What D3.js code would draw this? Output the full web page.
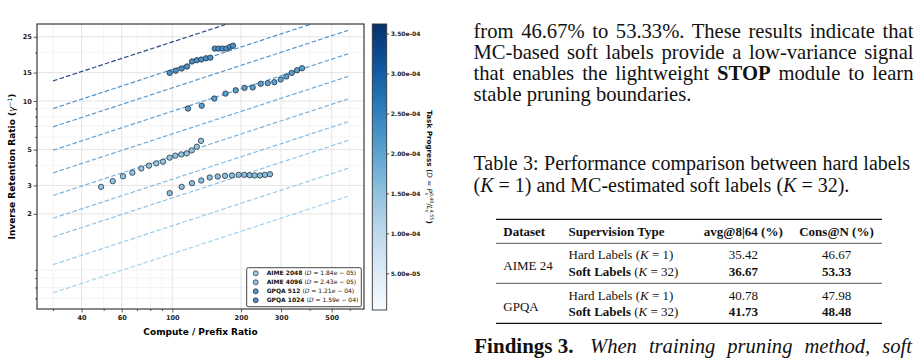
<!DOCTYPE html>
<html>
<head>
<meta charset="utf-8">
<script src="https://cdn.jsdelivr.net/npm/d3@7"></script>
<style>
  body { margin: 0; background: #fff; }
  svg { display: block; }
  .ax text { font-family: "DejaVu Sans"; font-weight: bold; fill: #222; }
  .ax line { stroke: #333; stroke-width: 0.8; }
  .paper { font-family: "Liberation Serif"; fill: #111; }
</style>
</head>
<body>
<svg id="fig" width="917" height="363"></svg>
<script>
// ---- chart data ----
const seriesNames = ["AIME 2048", "AIME 4096", "GPQA 512", "GPQA 1024"];
const seriesD = [1.84e-5, 2.43e-5, 1.21e-4, 1.59e-4];

const aime2048X = [48.7, 54.8, 60.8, 66.8, 73.1, 79.0, 85.1, 91.0, 97.4, 103.1, 109.5, 115.7, 121.6, 128.0, 133.6];
const aime2048Y = [2.94, 3.19, 3.42, 3.60, 3.82, 3.98, 4.11, 4.21, 4.46, 4.59, 4.67, 4.74, 4.94, 5.21, 5.67];
const aime4096X = [97.4, 109.9, 122.0, 134.0, 145.9, 158.2, 170.3, 182.7, 195.5, 206.9, 218.5, 229.8, 242.4, 255.0, 268.2];
const aime4096Y = [2.69, 2.94, 3.10, 3.22, 3.36, 3.41, 3.44, 3.46, 3.49, 3.49, 3.47, 3.46, 3.46, 3.49, 3.52];
const gpqa512X = [117.2, 134.6, 152.8, 171.2, 189.7, 207.3, 225.2, 244.2, 262.1, 280.2, 298.8, 316.2, 334.0, 352.4, 370.6];
const gpqa512Y = [8.99, 9.36, 10.36, 11.12, 11.65, 12.06, 12.14, 12.78, 12.91, 13.09, 13.60, 14.19, 14.94, 15.52, 15.96];
const gpqa1024X = [97.4, 103.5, 109.9, 116.0, 122.0, 128.0, 134.0, 140.6, 146.8, 153.5, 159.4, 165.7, 172.5, 179.1, 184.6];
const gpqa1024Y = [14.94, 15.41, 15.89, 16.37, 17.58, 17.90, 18.08, 18.39, 18.57, 21.13, 21.13, 21.13, 21.13, 21.65, 22.02];

// dashed iso-progress guides: value at x = guideX[0] and at x = guideX[1]
const guideX = [30, 590];
const guideStartY = [13.33, 8.99, 6.92, 4.96, 3.59, 2.60, 1.88, 1.44, 0.969, 0.649];
const guideEndY = [52.7, 35.6, 27.4, 19.6, 14.2, 10.3, 7.44, 5.70, 3.83, 2.57];

const xMajor = [40, 60, 100, 200, 300, 500];
const xMinor = [30, 50, 70, 80, 90, 400, 600];
const yMajor = [2, 3, 5, 10, 15, 25];
const yMinor = [0.6, 0.7, 0.8, 0.9, 4, 6, 7, 8, 9, 20];
const cbarTicks = [5e-5, 1e-4, 1.5e-4, 2e-4, 2.5e-4, 3e-4, 3.5e-4];
const cbarRange = [4.1e-6, 3.62e-4];

// ---- right-hand page text ----
const bodyLines = [
  [{t: "from 46.67% to 53.33%. These results indicate that"}],
  [{t: "MC-based soft labels provide a low-variance signal"}],
  [{t: "that enables the lightweight "}, {t: "STOP", b: 1}, {t: " module to learn"}],
  [{t: "stable pruning boundaries."}]
];
const captionLines = [
  [{t: "Table 3: Performance comparison between hard labels"}],
  [{t: "("}, {t: "K", i: 1}, {t: " = 1) and MC-estimated soft labels ("}, {t: "K", i: 1}, {t: " = 32)."}]
];
const tableHeader = ["Dataset", "Supervision Type", "avg@8|64 (%)", "Cons@N (%)"];
const tableDatasets = ["AIME 24", "GPQA"];
const avgHard = [35.42, 40.78], avgSoft = [36.67, 41.73];
const consHard = [46.67, 47.98], consSoft = [53.33, 48.48];

const svg = d3.select("#fig");
svg.append("rect").attr("width", 917).attr("height", 363).attr("fill", "#fff");

const plot = {l: 37, t: 24, r: 364, b: 309};
const x = d3.scaleLog().domain([25.5, 693]).range([plot.l, plot.r]);
const y = d3.scaleLog().domain([0.515, 30]).range([plot.b, plot.t]);

svg.append("clipPath").attr("id", "clip")
  .append("rect").attr("x", plot.l).attr("y", plot.t)
  .attr("width", plot.r - plot.l).attr("height", plot.b - plot.t);

// grid
const grid = svg.append("g");
grid.selectAll(".vmin").data(xMinor.filter(d => x(d) > plot.l && x(d) < plot.r)).join("line")
  .attr("x1", d => x(d)).attr("x2", d => x(d)).attr("y1", plot.t).attr("y2", plot.b)
  .attr("stroke", "#f1f1f1").attr("stroke-width", 0.7);
grid.selectAll(".hmin").data(yMinor).join("line")
  .attr("y1", d => y(d)).attr("y2", d => y(d)).attr("x1", plot.l).attr("x2", plot.r)
  .attr("stroke", "#f1f1f1").attr("stroke-width", 0.7);
grid.selectAll(".vmaj").data(xMajor).join("line")
  .attr("x1", d => x(d)).attr("x2", d => x(d)).attr("y1", plot.t).attr("y2", plot.b)
  .attr("stroke", "#e2e2e2").attr("stroke-width", 0.9);
grid.selectAll(".hmaj").data(yMajor).join("line")
  .attr("y1", d => y(d)).attr("y2", d => y(d)).attr("x1", plot.l).attr("x2", plot.r)
  .attr("stroke", "#e2e2e2").attr("stroke-width", 0.9);

// guides
const guideColor = d3.scaleLinear().domain([0, 1, guideStartY.length - 1])
  .range(["#2a4a88", "#4f93cc", "#a7d2ec"]);
svg.append("g").attr("clip-path", "url(#clip)")
  .selectAll("line").data(guideStartY).join("line")
  .attr("x1", x(guideX[0])).attr("x2", x(guideX[1]))
  .attr("y1", d => y(d)).attr("y2", (d, i) => y(guideEndY[i]))
  .attr("stroke", (d, i) => guideColor(i))
  .attr("stroke-width", 1.2)
  .attr("stroke-dasharray", "4.6,2.2");

// points
const series = [
  {x: aime2048X, y: aime2048Y},
  {x: aime4096X, y: aime4096Y},
  {x: gpqa512X, y: gpqa512Y},
  {x: gpqa1024X, y: gpqa1024Y}
];
const fills = ["#93c4e0", "#8abfdd", "#5a9fd0", "#4a90c6"];
series.forEach((s, k) => {
  svg.append("g").selectAll("circle").data(s.x).join("circle")
    .attr("cx", d => x(d)).attr("cy", (d, i) => y(s.y[i])).attr("r", 2.7)
    .attr("fill", fills[k]).attr("stroke", "#1f2a36").attr("stroke-width", 0.75);
});

// axes
const fmt = d3.format("d");
const gx = svg.append("g").attr("class", "ax").attr("transform", `translate(0,${plot.b})`);
gx.call(d3.axisBottom(x).tickValues(xMajor).tickFormat(fmt).tickSize(3.5).tickPadding(2.5));
gx.append("g").call(d3.axisBottom(x).tickValues(xMinor).tickFormat("").tickSize(2));
gx.selectAll(".domain").remove();
gx.selectAll("text").attr("font-size", 6.6);

const gy = svg.append("g").attr("class", "ax").attr("transform", `translate(${plot.l},0)`);
gy.call(d3.axisLeft(y).tickValues(yMajor).tickFormat(fmt).tickSize(3.5).tickPadding(1.6));
gy.append("g").call(d3.axisLeft(y).tickValues(yMinor).tickFormat("").tickSize(2));
gy.selectAll(".domain").remove();
gy.selectAll("text").attr("font-size", 6.6);

svg.append("rect").attr("x", plot.l).attr("y", plot.t)
  .attr("width", plot.r - plot.l).attr("height", plot.b - plot.t)
  .attr("fill", "none").attr("stroke", "#3a3a3a").attr("stroke-width", 1.2);

svg.append("text").attr("class", "ax")
  .attr("x", (plot.l + plot.r) / 2).attr("y", 334.5).attr("text-anchor", "middle")
  .attr("font-family", "DejaVu Sans").attr("font-weight", "bold").attr("font-size", 9)
  .text("Compute / Prefix Ratio");

const yl = svg.append("text")
  .attr("transform", `translate(15,${(plot.t + plot.b) / 2}) rotate(-90)`)
  .attr("text-anchor", "middle").attr("font-family", "DejaVu Sans").attr("font-size", 9);
yl.append("tspan").attr("font-weight", "bold").text("Inverse Retention Ratio (");
yl.append("tspan").attr("font-style", "italic").text("γ");
yl.append("tspan").attr("font-size", 6).attr("dy", -3.5).text("−1");
yl.append("tspan").attr("font-weight", "bold").attr("dy", 3.5).text(")");

// legend
const lg = svg.append("g");
lg.append("rect").attr("x", 246.7).attr("y", 267.7).attr("width", 114.6).attr("height", 39)
  .attr("rx", 1.5).attr("fill", "#fff").attr("fill-opacity", 0.85)
  .attr("stroke", "#333").attr("stroke-width", 0.9);
const legendFills = ["#9ccae3", "#94c5e1", "#4f96cb", "#4a8fc6"];
seriesNames.forEach((name, i) => {
  const ly = 273.3 + i * 9;
  lg.append("circle").attr("cx", 255.7).attr("cy", ly).attr("r", 2.5)
    .attr("fill", legendFills[i]).attr("stroke", "#1f2a36").attr("stroke-width", 0.7);
  const [m, e] = seriesD[i].toExponential(2).split("e");
  const ex = String(Math.abs(+e)).padStart(2, "0");
  const t = lg.append("text").attr("x", 266.7).attr("y", ly + 2.1)
    .attr("font-family", "DejaVu Sans").attr("font-size", 6).attr("fill", "#111");
  t.append("tspan").attr("font-weight", "bold").text(name + " ");
  t.append("tspan").text("(");
  t.append("tspan").attr("font-style", "italic").text("D");
  t.append("tspan").text(" = " + m);
  t.append("tspan").attr("font-style", "italic").text("e");
  t.append("tspan").text(" − " + ex + ")");
});

// colorbar
const cb = {x: 372.3, w: 14.4, t: 24, b: 310};
const grad = svg.append("defs").append("linearGradient").attr("id", "blues")
  .attr("x1", 0).attr("y1", 1).attr("x2", 0).attr("y2", 0);
d3.range(0, 1.0001, 0.05).forEach(t => {
  grad.append("stop").attr("offset", t).attr("stop-color", d3.interpolateBlues(t));
});
svg.append("rect").attr("x", cb.x).attr("y", cb.t).attr("width", cb.w).attr("height", cb.b - cb.t)
  .attr("fill", "url(#blues)").attr("stroke", "#333").attr("stroke-width", 0.9);
const cScale = d3.scaleLinear().domain(cbarRange).range([cb.b, cb.t]);
const sci = v => {
  const [m, e] = v.toExponential(2).split("e");
  return m + "e" + (+e < 0 ? "-" : "+") + String(Math.abs(+e)).padStart(2, "0");
};
const gc = svg.append("g").attr("class", "ax").attr("transform", `translate(${cb.x + cb.w},0)`);
gc.call(d3.axisRight(cScale).tickValues(cbarTicks).tickFormat(sci).tickSize(2.5).tickPadding(1.5));
gc.selectAll(".domain").remove();
gc.selectAll("text").attr("font-size", 6);

const cl = svg.append("text")
  .attr("transform", `translate(427,${(cb.t + cb.b) / 2}) rotate(90)`)
  .attr("text-anchor", "middle").attr("font-family", "DejaVu Sans").attr("font-size", 7.2).attr("fill", "#111");
cl.append("tspan").attr("font-weight", "bold").text("Task Progress ");
cl.append("tspan").attr("font-weight", "bold").text("(");
cl.append("tspan").attr("font-style", "italic").text("D");
cl.append("tspan").text(" = ");
cl.append("tspan").attr("font-style", "italic").text("P");
cl.append("tspan").attr("font-size", 4.8).attr("font-style", "italic").attr("dy", 2.2).text("k");
cl.append("tspan").attr("font-size", 4.8).attr("dx", -2.9).attr("dy", -5.4).text("0.40");
cl.append("tspan").attr("dy", 3.2).text("/");
cl.append("tspan").attr("font-style", "italic").text("L");
cl.append("tspan").attr("font-size", 4.8).attr("font-style", "italic").attr("dy", 2.2).text("k");
cl.append("tspan").attr("font-size", 4.8).attr("dx", -2.9).attr("dy", -5.4).text("4.55");
cl.append("tspan").attr("font-weight", "bold").attr("dy", 3.2).text(")");

// ---- page text on the right ----
function rich(sel, segs) {
  segs.forEach(s => {
    sel.append("tspan").text(s.t)
      .attr("font-weight", s.b ? "bold" : null)
      .attr("font-style", s.i ? "italic" : null);
  });
  return sel;
}
function justify(sel, width) {
  const natural = sel.node().getComputedTextLength();
  const spaces = (sel.text().match(/ /g) || []).length;
  if (spaces) sel.attr("word-spacing", (width - natural) / spaces);
}
const col = {l: 473.5, r: 913.5};
const bodyBase = [37.5, 58.5, 79.5, 100.5];
bodyLines.forEach((segs, i) => {
  const t = rich(svg.append("text").attr("class", "paper").attr("x", col.l).attr("y", bodyBase[i])
    .attr("font-size", 20.6), segs);
  if (i < bodyLines.length - 1) justify(t, col.r - col.l);
});
const capBase = [169.5, 191.5];
captionLines.forEach((segs, i) => {
  const t = rich(svg.append("text").attr("class", "paper").attr("x", col.l).attr("y", capBase[i])
    .attr("font-size", 20), segs);
  if (i === 0) justify(t, 910 - col.l);
});

// table
const tb = svg.append("g").attr("class", "paper").attr("font-size", 13);
const rule = (yy, w) => tb.append("line").attr("x1", 496).attr("x2", 882)
  .attr("y1", yy).attr("y2", yy).attr("stroke", "#111").attr("stroke-width", w);
rule(219.3, 1.3); rule(243.3, 0.7); rule(283.3, 0.7); rule(323.3, 1.3);
const colX = [503.3, 568.5, 743.3, 836.5];
const anchors = ["start", "start", "middle", "middle"];
tableHeader.forEach((h, j) => {
  tb.append("text").attr("x", colX[j]).attr("y", 236).attr("text-anchor", anchors[j])
    .attr("font-weight", "bold").text(h);
});
const rowBase = [[258.5, 276], [299.5, 316]];
const dsBase = [269.5, 310.5];
tableDatasets.forEach((ds, g) => {
  tb.append("text").attr("x", colX[0]).attr("y", dsBase[g]).text(ds);
  rich(tb.append("text").attr("x", colX[1]).attr("y", rowBase[g][0]),
    [{t: "Hard Labels ("}, {t: "K", i: 1}, {t: " = 1)"}]);
  rich(tb.append("text").attr("x", colX[1]).attr("y", rowBase[g][1]),
    [{t: "Soft Labels", b: 1}, {t: " ("}, {t: "K", i: 1}, {t: " = 32)"}]);
  tb.append("text").attr("x", colX[2]).attr("y", rowBase[g][0]).attr("text-anchor", "middle").text(avgHard[g].toFixed(2));
  tb.append("text").attr("x", colX[3]).attr("y", rowBase[g][0]).attr("text-anchor", "middle").text(consHard[g].toFixed(2));
  tb.append("text").attr("x", colX[2]).attr("y", rowBase[g][1]).attr("text-anchor", "middle")
    .attr("font-weight", "bold").text(avgSoft[g].toFixed(2));
  tb.append("text").attr("x", colX[3]).attr("y", rowBase[g][1]).attr("text-anchor", "middle")
    .attr("font-weight", "bold").text(consSoft[g].toFixed(2));
});

svg.append("text").attr("class", "paper").attr("x", 474.3).attr("y", 353)
  .attr("font-size", 21).attr("font-weight", "bold").text("Findings 3.");
const fi = svg.append("text").attr("class", "paper").attr("x", 590).attr("y", 353)
  .attr("font-size", 20.6).attr("font-style", "italic").text("When training pruning method, soft");
justify(fi, 912 - 590);
</script>
</body>
</html>
